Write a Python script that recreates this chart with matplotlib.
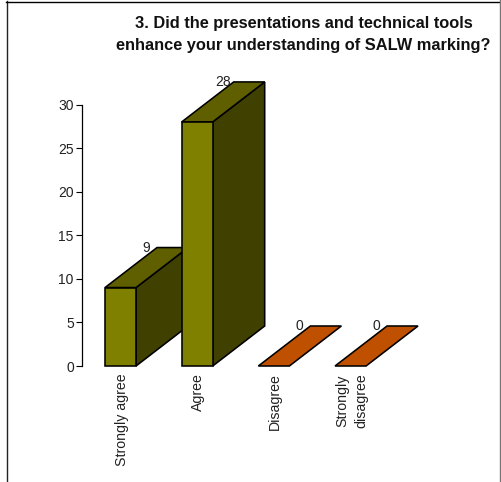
import matplotlib
matplotlib.use('Agg')
import matplotlib.pyplot as plt
from matplotlib.patches import Polygon, Rectangle

plt.rcParams['font.family'] = ['Liberation Sans', 'DejaVu Sans']

categories = ['Strongly agree', 'Agree', 'Disagree', 'Strongly\ndisagree']
values = [9, 28, 0, 0]
y_ticks = [0, 5, 10, 15, 20, 25, 30]
title_lines = '3. Did the presentations and technical tools\nenhance your understanding of SALW marking?'

front_col = '#808000'
top_col = '#5f5f00'
side_col = '#404000'
zero_col = '#bf5000'

W, H = 501, 482
fig = plt.figure(figsize=(W / 100, H / 100), dpi=100)

# axes in pixels: y axis at x=81.5, 0 at y=366, 30 at y=104.5
unit_x = 76.67
left, bottom, top_px = 81.5, 366.0, 104.5
ax = fig.add_axes([left / W, (H - bottom) / H, 4 * unit_x / W, (bottom - top_px) / H])
ax.set_xlim(-0.509, 3.491)
ax.set_ylim(0, 30)
ax.patch.set_visible(False)

unit_y = (bottom - top_px) / 30
bw = 31 / unit_x
dx = 52 / unit_x
dy = 40 / unit_y

for i, v in enumerate(values):
    x0 = i - bw / 2
    x1 = i + bw / 2
    style = dict(edgecolor='black', linewidth=1.15, joinstyle='miter', clip_on=False, zorder=2 + i)
    if v > 0:
        ax.add_patch(Polygon([(x1, 0), (x1 + dx, dy), (x1 + dx, v + dy), (x1, v)], facecolor=side_col, **style))
        ax.add_patch(Polygon([(x0, v), (x1, v), (x1 + dx, v + dy), (x0 + dx, v + dy)], facecolor=top_col, **style))
        ax.add_patch(Rectangle((x0, 0), bw, v, facecolor=front_col, **style))
    else:
        ax.add_patch(Polygon([(x0, v), (x1, v), (x1 + dx, v + dy), (x0 + dx, v + dy)], facecolor=zero_col, **style))
    ax.text(x0 + 41 / unit_x, v + dy, str(v), ha='center', va='center', fontsize=10, color='#222222', zorder=20)

for s in ['top', 'right', 'bottom']:
    ax.spines[s].set_visible(False)
ax.spines['left'].set_linewidth(0.9)
ax.set_yticks(y_ticks)
ax.tick_params(axis='y', length=4.0, width=0.8, labelsize=10, labelcolor='#222222', pad=1.5)
ax.set_xticks([])

for i, c in enumerate(categories):
    ax.annotate(c, (i, 0), xytext=(0.8, -5), textcoords='offset points', rotation=90,
                ha='center', va='top', fontsize=10.2, color='#222222', multialignment='center',
                linespacing=1.47, annotation_clip=False)

fig.text(303.5 / W, 1 - 34.5 / H, title_lines, ha='center', va='center', fontsize=11.75,
         fontweight='bold', color='#111111', linespacing=1.6)

# outer frame
fig.add_artist(plt.Line2D([6.5 / W, 6.5 / W], [0, 1 - 1 / H], color='#222222', lw=1.0))
fig.add_artist(plt.Line2D([6 / W, 1], [1 - 1.5 / H, 1 - 1.5 / H], color='black', lw=1.0))
fig.add_artist(plt.Line2D([500 / W, 500 / W], [0, 1], color='#777777', lw=1.0))

fig.savefig('out.png', dpi=100)
